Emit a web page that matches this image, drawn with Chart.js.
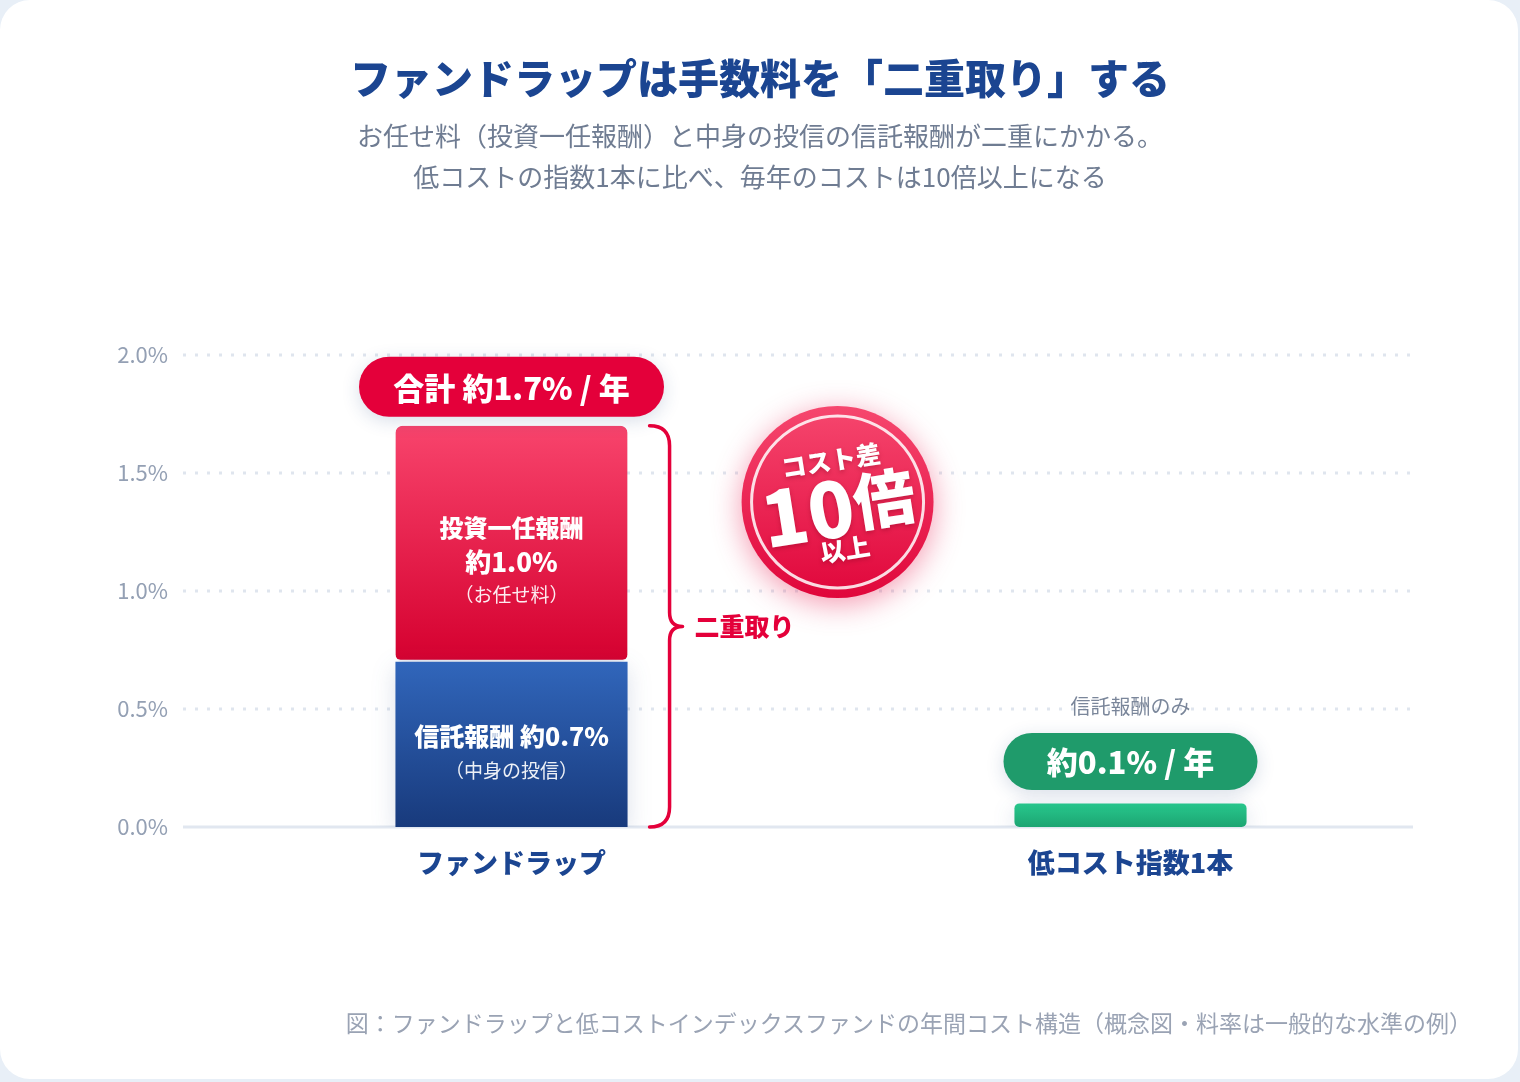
<!DOCTYPE html>
<html lang="ja">
<head>
<meta charset="utf-8">
<title>ファンドラップは手数料を「二重取り」する</title>
<script src="https://cdn.jsdelivr.net/npm/chart.js@4.4.1/dist/chart.umd.min.js"></script>
<style>
  html, body { margin: 0; padding: 0; }
  body {
    width: 1520px; height: 1082px; overflow: hidden;
    background: #e8eff7;
    font-family: "Noto Sans CJK JP", "Noto Sans", sans-serif;
  }
  .card {
    position: absolute; left: 0; top: 0; width: 1518px; height: 1079px;
    background: #fff; border-radius: 30px;
  }
  #chart { position: absolute; left: 0; top: 0; }
  .title {
    position: absolute; left: 0; width: 1520px; top: 50px; text-align: center;
    font-size: 41px; font-weight: 900; color: #1b4591; line-height: 52px;
  }
  .sub {
    position: absolute; left: 0; width: 1520px; top: 114px; text-align: center;
    font-size: 26px; color: #6f7c92; line-height: 41px;
  }
  .note {
    position: absolute; right: 46px; top: 1006px;
    font-size: 23px; color: #9aa3b4; line-height: 32px;
  }
</style>
</head>
<body>
<div class="card">
  <canvas id="chart" width="1520" height="1082"></canvas>
  <div class="title">ファンドラップは手数料を「二重取り」する</div>
  <div class="sub">お任せ料（投資一任報酬）と中身の投信の信託報酬が二重にかかる。<br>低コストの指数1本に比べ、毎年のコストは10倍以上になる</div>
  <div class="note">図：ファンドラップと低コストインデックスファンドの年間コスト構造（概念図・料率は一般的な水準の例）</div>
</div>
<script>
// データ
var categories = ['ファンドラップ', '低コスト指数1本'];
var trustFee   = [0.7, null];   // 信託報酬（中身の投信）
var wrapFee    = [1.0, null];   // 投資一任報酬（お任せ料）
var indexFee   = [null, 0.1];   // 低コスト指数の信託報酬
var yTicks     = [0, 0.5, 1.0, 1.5, 2.0];

var FONT = '"Noto Sans CJK JP", "Noto Sans", sans-serif';
var RED = '#e4003a';
var NAVY = '#1b4591';

Chart.defaults.font.family = FONT;

// 縦方向グラデーション（値の範囲から作る）
function vGrad(from, to, c1, c2) {
    return function (ctx) {
        var chart = ctx.chart;
        var y = chart.scales.y;
        if (!y || !chart.chartArea) return c2;
        var g = chart.ctx.createLinearGradient(0, y.getPixelForValue(to), 0, y.getPixelForValue(from));
        g.addColorStop(0, c1);
        g.addColorStop(1, c2);
        return g;
    };
}

function pill(ctx, cx, cy, w, h, color, text, size) {
    ctx.save();
    ctx.shadowColor = 'rgba(40,70,130,0.18)';
    ctx.shadowBlur = 18;
    ctx.shadowOffsetY = 4;
    ctx.fillStyle = color;
    ctx.beginPath();
    ctx.roundRect(cx - w / 2, cy - h / 2, w, h, h / 2);
    ctx.fill();
    ctx.restore();
    ctx.save();
    ctx.fillStyle = '#fff';
    ctx.font = '900 ' + size + 'px ' + FONT;
    ctx.textAlign = 'center';
    ctx.textBaseline = 'middle';
    ctx.fillText(text, cx, cy + 1);
    ctx.restore();
}

function label(ctx, text, x, y, size, weight, color, align) {
    ctx.font = weight + ' ' + size + 'px ' + FONT;
    ctx.fillStyle = color;
    ctx.textAlign = align || 'center';
    ctx.textBaseline = 'middle';
    ctx.fillText(text, x, y);
}

// 点線グリッドと基準線
var gridPlugin = {
    id: 'grid',
    beforeDatasetsDraw: function (chart) {
        var ctx = chart.ctx, y = chart.scales.y;
        var x0 = 183, x1 = 1413;
        ctx.save();
        yTicks.forEach(function (v) {
            var py = Math.round(y.getPixelForValue(v));
            ctx.beginPath();
            if (v === 0) {
                ctx.setLineDash([]);
                ctx.strokeStyle = '#e1e7f0';
                ctx.lineWidth = 3;
            } else {
                ctx.setLineDash([3, 9]);
                ctx.strokeStyle = '#dfe5ee';
                ctx.lineWidth = 3;
            }
            ctx.moveTo(x0, py);
            ctx.lineTo(x1, py);
            ctx.stroke();
        });
        ctx.restore();
        ctx.save();
        ctx.shadowColor = 'rgba(40,70,130,0.16)';
        ctx.shadowBlur = 22;
        ctx.shadowOffsetY = 6;
    },
    afterDatasetsDraw: function (chart) {
        chart.ctx.restore();
    }
};

// 注記（吹き出し・括弧・バッジ）
var notePlugin = {
    id: 'notes',
    afterDatasetsDraw: function (chart) {
        var ctx = chart.ctx, y = chart.scales.y;
        var blue = chart.getDatasetMeta(0).data[0];
        var red = chart.getDatasetMeta(1).data[0];
        var green = chart.getDatasetMeta(2).data[1];
        var total = trustFee[0] + wrapFee[0];

        ctx.save();
        // 赤セグメント内ラベル
        var rc = (red.y + red.base) / 2;
        label(ctx, '投資一任報酬', red.x, rc - 16, 24, 900, '#fff');
        label(ctx, '約' + wrapFee[0].toFixed(1) + '%', red.x, rc + 18, 26, 900, '#fff');
        label(ctx, '（お任せ料）', red.x, rc + 51, 19, 400, 'rgba(255,255,255,0.92)');
        // 青セグメント内ラベル
        var bc = (blue.y + blue.base) / 2;
        label(ctx, '信託報酬 約' + trustFee[0].toFixed(1) + '%', blue.x, bc - 8, 25, 900, '#fff');
        label(ctx, '（中身の投信）', blue.x, bc + 26, 19, 400, 'rgba(255,255,255,0.92)');

        // 合計ピル
        pill(ctx, red.x, red.y - 39, 305, 60, RED, '合計 約' + total.toFixed(1) + '% / 年', 31);

        // 低コスト側
        label(ctx, '信託報酬のみ', green.x, green.y - 97, 20, 400, '#7a869a');
        pill(ctx, green.x, green.y - 42, 254, 57, '#1f9b6b', '約' + indexFee[1].toFixed(1) + '% / 年', 31);

        // 括弧
        var bx = red.x + red.width / 2 + 22;
        var top = red.y, bottom = y.getPixelForValue(0), mid = (top + bottom) / 2;
        var vx = bx + 20;
        ctx.beginPath();
        ctx.moveTo(bx, top);
        ctx.quadraticCurveTo(vx, top, vx, top + 20);
        ctx.lineTo(vx, mid - 14);
        ctx.quadraticCurveTo(vx, mid, vx + 13, mid);
        ctx.quadraticCurveTo(vx, mid, vx, mid + 14);
        ctx.lineTo(vx, bottom - 20);
        ctx.quadraticCurveTo(vx, bottom, bx, bottom);
        ctx.strokeStyle = RED;
        ctx.lineWidth = 3.5;
        ctx.lineCap = 'round';
        ctx.lineJoin = 'round';
        ctx.stroke();
        label(ctx, '二重取り', vx + 25, mid, 25, 900, RED, 'left');

        // バッジ
        var cx = bx + 188, cy = y.getPixelForValue(1.377), r = 96;
        ctx.save();
        ctx.shadowColor = 'rgba(228,0,58,0.4)';
        ctx.shadowBlur = 30;
        ctx.shadowOffsetY = 6;
        var g = ctx.createLinearGradient(0, cy - r, 0, cy + r);
        g.addColorStop(0, '#f6476e');
        g.addColorStop(1, '#e0063b');
        ctx.fillStyle = g;
        ctx.beginPath();
        ctx.arc(cx, cy, r, 0, Math.PI * 2);
        ctx.fill();
        ctx.restore();
        ctx.beginPath();
        ctx.arc(cx, cy, r - 10, 0, Math.PI * 2);
        ctx.strokeStyle = 'rgba(255,255,255,0.85)';
        ctx.lineWidth = 3;
        ctx.stroke();

        ctx.save();
        ctx.translate(cx, cy);
        ctx.rotate(-9 * Math.PI / 180);
        ctx.shadowColor = 'rgba(120,0,30,0.35)';
        ctx.shadowBlur = 4;
        ctx.shadowOffsetY = 2;
        label(ctx, 'コスト差', 0, -42, 25, 900, '#fff');
        ctx.font = '900 76px ' + FONT;
        var w10 = ctx.measureText('10').width;
        ctx.font = '900 62px ' + FONT;
        var wB = ctx.measureText('倍').width;
        var sx = -(w10 + wB) / 2;
        label(ctx, '10', sx, 6, 76, 900, '#fff', 'left');
        label(ctx, '倍', sx + w10, 4, 62, 900, '#fff', 'left');
        label(ctx, '以上', 0, 48, 25, 900, '#fff');
        ctx.restore();

        ctx.restore();
    }
};

new Chart(document.getElementById('chart'), {
    type: 'bar',
    data: {
        labels: categories,
        datasets: [
            {
                label: '信託報酬',
                data: trustFee,
                backgroundColor: vGrad(0, 0.7, '#3166bb', '#183a7c'),
                borderRadius: 7,
                borderSkipped: false
            },
            {
                label: '投資一任報酬',
                data: wrapFee,
                backgroundColor: vGrad(0.7, 1.7, '#f8446c', '#d5002f'),
                borderColor: '#ffffff',
                borderWidth: { bottom: 2 },
                borderRadius: 7,
                borderSkipped: false
            },
            {
                label: '低コスト指数',
                data: indexFee,
                backgroundColor: vGrad(0, 0.1, '#28c88d', '#1ca572'),
                borderRadius: 5,
                borderSkipped: false
            }
        ]
    },
    options: {
        responsive: false,
        animation: false,
        layout: { padding: { top: 355, right: 80, bottom: 195, left: 0 } },
        datasets: { bar: { categoryPercentage: 1, barPercentage: 0.375 } },
        plugins: { legend: { display: false }, tooltip: { enabled: false } },
        scales: {
            x: {
                stacked: true,
                grid: { display: false, drawTicks: false },
                border: { display: false },
                ticks: { color: NAVY, padding: 20, font: { size: 27, weight: '900' } },
                afterFit: function (s) { s.height = 60; }
            },
            y: {
                stacked: true,
                min: 0,
                max: 2,
                grid: { display: false, drawTicks: false },
                border: { display: false },
                afterBuildTicks: function (s) { s.ticks = yTicks.map(function (v) { return { value: v }; }); },
                ticks: {
                    color: '#94a0b4',
                    padding: 34,
                    font: { size: 22 },
                    callback: function (v) { return v.toFixed(1) + '%'; }
                },
                afterFit: function (s) { s.width = 202; }
            }
        }
    },
    plugins: [gridPlugin, notePlugin]
});
</script>
</body>
</html>
